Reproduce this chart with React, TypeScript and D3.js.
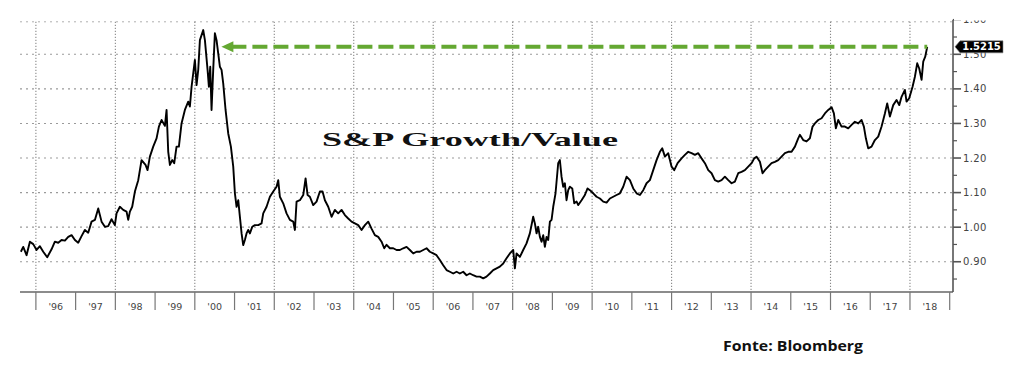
import React from "react";
import * as d3 from "d3";

// S&P Growth/Value ratio (decimal year, ratio)
const ratio1995to2000: [number, number][] = [
  [1995.622, 0.929], [1995.681, 0.943], [1995.765, 0.919], [1995.849, 0.958], [1995.933, 0.951],
  [1996.017, 0.934], [1996.101, 0.945], [1996.185, 0.929], [1996.285, 0.913], [1996.394, 0.936],
  [1996.478, 0.958], [1996.562, 0.955], [1996.646, 0.963], [1996.730, 0.961], [1996.814, 0.972],
  [1996.898, 0.977], [1996.982, 0.963], [1997.065, 0.955], [1997.149, 0.974], [1997.233, 0.992],
  [1997.317, 0.984], [1997.401, 1.016], [1997.485, 1.021], [1997.569, 1.054], [1997.653, 1.016],
  [1997.737, 1.001], [1997.820, 1.003], [1997.904, 1.023], [1997.988, 1.006], [1998.030, 1.040],
  [1998.114, 1.059], [1998.198, 1.050], [1998.282, 1.045], [1998.324, 1.021], [1998.366, 1.045],
  [1998.424, 1.059], [1998.492, 1.103], [1998.576, 1.136], [1998.659, 1.194], [1998.760, 1.180],
  [1998.810, 1.165], [1998.869, 1.204], [1998.953, 1.233], [1999.037, 1.257], [1999.096, 1.291],
  [1999.163, 1.310], [1999.247, 1.293], [1999.289, 1.339], [1999.331, 1.218], [1999.373, 1.180],
  [1999.431, 1.194], [1999.482, 1.185], [1999.540, 1.233], [1999.599, 1.233], [1999.666, 1.300],
  [1999.750, 1.339], [1999.834, 1.363], [1999.876, 1.349], [1999.918, 1.406], [2000.002, 1.484],
];

const ratio2000to2004: [number, number][] = [
  [2000.044, 1.411], [2000.086, 1.455], [2000.128, 1.541], [2000.212, 1.570], [2000.254, 1.541],
  [2000.321, 1.455], [2000.354, 1.406], [2000.388, 1.464], [2000.421, 1.339], [2000.463, 1.455],
  [2000.505, 1.561], [2000.547, 1.541], [2000.589, 1.503], [2000.631, 1.464], [2000.673, 1.455],
  [2000.715, 1.416], [2000.774, 1.339], [2000.841, 1.271], [2000.908, 1.233], [2000.967, 1.175],
  [2001.009, 1.098], [2001.051, 1.059], [2001.093, 1.078], [2001.135, 1.030], [2001.177, 0.982],
  [2001.218, 0.948], [2001.260, 0.963], [2001.302, 0.982], [2001.344, 0.992], [2001.386, 0.982],
  [2001.445, 1.001], [2001.512, 1.006], [2001.596, 1.006], [2001.680, 1.011], [2001.722, 1.040],
  [2001.806, 1.059], [2001.890, 1.088], [2001.974, 1.103], [2002.057, 1.117], [2002.099, 1.136],
  [2002.141, 1.088], [2002.225, 1.069], [2002.309, 1.040], [2002.393, 1.021], [2002.477, 1.016],
  [2002.519, 0.992], [2002.561, 1.074], [2002.645, 1.078], [2002.729, 1.093], [2002.788, 1.141],
  [2002.838, 1.093], [2002.896, 1.088], [2002.980, 1.064], [2003.064, 1.074], [2003.148, 1.103],
  [2003.215, 1.103], [2003.274, 1.078], [2003.358, 1.059], [2003.442, 1.030], [2003.525, 1.050],
  [2003.609, 1.040], [2003.693, 1.050], [2003.777, 1.035], [2003.861, 1.025], [2003.945, 1.016],
  [2004.029, 1.011], [2004.113, 1.006], [2004.197, 0.992], [2004.281, 1.006], [2004.365, 1.016],
  [2004.448, 0.996], [2004.532, 0.977], [2004.616, 0.972], [2004.700, 0.958], [2004.767, 0.939],
];

const ratio2004to2009: [number, number][] = [
  [2004.826, 0.949], [2004.910, 0.939], [2004.994, 0.939], [2005.077, 0.934], [2005.161, 0.934],
  [2005.245, 0.939], [2005.329, 0.943], [2005.413, 0.934], [2005.497, 0.924], [2005.581, 0.929],
  [2005.665, 0.929], [2005.749, 0.934], [2005.833, 0.939], [2005.916, 0.929], [2006.000, 0.924],
  [2006.084, 0.919], [2006.168, 0.905], [2006.252, 0.890], [2006.336, 0.876], [2006.420, 0.871],
  [2006.504, 0.866], [2006.588, 0.871], [2006.671, 0.866], [2006.755, 0.871], [2006.839, 0.861],
  [2006.923, 0.866], [2007.007, 0.861], [2007.091, 0.857], [2007.175, 0.857], [2007.259, 0.852],
  [2007.342, 0.857], [2007.426, 0.866], [2007.510, 0.876], [2007.594, 0.881], [2007.678, 0.886],
  [2007.762, 0.895], [2007.846, 0.910], [2007.930, 0.924], [2008.014, 0.934], [2008.056, 0.881],
  [2008.098, 0.924], [2008.182, 0.914], [2008.265, 0.934], [2008.349, 0.953], [2008.433, 0.982],
  [2008.517, 1.030], [2008.559, 1.011], [2008.601, 0.982], [2008.643, 1.001], [2008.685, 0.972],
  [2008.727, 0.958], [2008.769, 0.977], [2008.811, 0.943], [2008.853, 0.972], [2008.895, 0.963],
  [2008.937, 1.016], [2008.979, 1.021], [2009.021, 1.059], [2009.079, 1.098], [2009.146, 1.185],
  [2009.188, 1.194], [2009.230, 1.146], [2009.272, 1.117], [2009.314, 1.127], [2009.356, 1.078],
  [2009.398, 1.107], [2009.440, 1.117],
];

const ratio2009to2014: [number, number][] = [
  [2009.500, 1.112], [2009.550, 1.069], [2009.609, 1.074], [2009.651, 1.064], [2009.734, 1.078],
  [2009.818, 1.093], [2009.885, 1.112], [2009.944, 1.107], [2010.028, 1.098], [2010.112, 1.088],
  [2010.196, 1.083], [2010.280, 1.074], [2010.364, 1.071], [2010.448, 1.083], [2010.531, 1.088],
  [2010.615, 1.093], [2010.699, 1.098], [2010.783, 1.117], [2010.867, 1.146], [2010.951, 1.136],
  [2011.035, 1.112], [2011.119, 1.098], [2011.203, 1.093], [2011.287, 1.107], [2011.370, 1.127],
  [2011.454, 1.136], [2011.538, 1.165], [2011.622, 1.194], [2011.706, 1.218], [2011.765, 1.228],
  [2011.832, 1.204], [2011.916, 1.214], [2012.000, 1.175], [2012.067, 1.165], [2012.151, 1.185],
  [2012.251, 1.199], [2012.335, 1.209], [2012.419, 1.218], [2012.503, 1.214], [2012.587, 1.209],
  [2012.671, 1.214], [2012.755, 1.199], [2012.839, 1.185], [2012.923, 1.165], [2013.006, 1.156],
  [2013.090, 1.136], [2013.174, 1.132], [2013.258, 1.136], [2013.342, 1.146], [2013.426, 1.136],
  [2013.510, 1.127], [2013.593, 1.132], [2013.677, 1.156], [2013.761, 1.160], [2013.845, 1.165],
  [2013.929, 1.175], [2014.013, 1.185], [2014.080, 1.199],
];

const ratio2014to2018: [number, number][] = [
  [2014.139, 1.204], [2014.223, 1.189], [2014.290, 1.156], [2014.349, 1.165], [2014.432, 1.175],
  [2014.516, 1.185], [2014.600, 1.189], [2014.684, 1.194], [2014.768, 1.204], [2014.852, 1.214],
  [2014.936, 1.218], [2015.020, 1.218], [2015.104, 1.233], [2015.187, 1.257], [2015.229, 1.267],
  [2015.313, 1.252], [2015.397, 1.248], [2015.481, 1.257], [2015.548, 1.291], [2015.607, 1.300],
  [2015.691, 1.310], [2015.775, 1.315], [2015.859, 1.329], [2015.943, 1.339], [2016.027, 1.347],
  [2016.085, 1.329], [2016.135, 1.286], [2016.194, 1.310], [2016.278, 1.291], [2016.362, 1.291],
  [2016.446, 1.286], [2016.530, 1.296], [2016.614, 1.305], [2016.698, 1.300], [2016.782, 1.310],
  [2016.840, 1.291], [2016.890, 1.257], [2016.949, 1.228], [2017.033, 1.233], [2017.117, 1.252],
  [2017.201, 1.262], [2017.285, 1.291], [2017.369, 1.329], [2017.427, 1.358], [2017.495, 1.320],
  [2017.578, 1.353], [2017.662, 1.368], [2017.730, 1.353], [2017.788, 1.377], [2017.872, 1.397],
  [2017.914, 1.363], [2017.981, 1.373], [2018.065, 1.406], [2018.124, 1.435], [2018.182, 1.474],
  [2018.233, 1.459], [2018.292, 1.426], [2018.334, 1.479], [2018.384, 1.493], [2018.434, 1.5215],
];

const yearStarts = d3.range(1996, 2020);
const yearLabels = ["'96", "'97", "'98", "'99", "'00", "'01", "'02", "'03", "'04", "'05", "'06", "'07",
  "'08", "'09", "'10", "'11", "'12", "'13", "'14", "'15", "'16", "'17", "'18"];
const gridYears = [1996, 1998, 2000, 2002, 2004, 2006, 2008, 2010, 2012, 2014, 2016, 2018];
const majorTicks = [0.9, 1.0, 1.1, 1.2, 1.3, 1.4, 1.5, 1.6];
const minorTicks = [0.85, 0.95, 1.05, 1.15, 1.25, 1.35, 1.45, 1.55];
const gridValues = [0.9, 1.0, 1.1, 1.2, 1.3, 1.4, 1.5];
const titleText = "S&P Growth/Value";
const sourceText = "Fonte: Bloomberg";

export default function App() {
  const data = [...ratio1995to2000, ...ratio2000to2004, ...ratio2004to2009, ...ratio2009to2014, ...ratio2014to2018];
  const left = 20, right = 953, top = 21.8, bottom = 292;
  const x = d3.scaleLinear().domain([1995.6, 2019.083]).range([left, right]);
  const y = d3.scaleLinear().domain([0.8125, 1.594]).range([bottom, top]);
  const line = d3.line<[number, number]>().x(d => x(d[0])).y(d => y(d[1]));

  const last = data[data.length - 1];
  const lastV = last[1];
  // find where the 2000 peak last exceeded the current level
  let crossYear = 2000.5;
  for (let i = 0; i < data.length - 1; i++) {
    const a = data[i], b = data[i + 1];
    if (a[0] < 2005 && a[1] >= lastV && b[1] < lastV) {
      crossYear = a[0] + (a[1] - lastV) / (a[1] - b[1]) * (b[0] - a[0]);
    }
  }
  const ya = y(lastV);
  const tipX = x(crossYear) + 4;
  const endX = x(last[0]);

  const axisFont = "'DejaVu Sans', Verdana, sans-serif";

  return (
    <svg width={1024} height={380} style={{ position: "absolute", left: 0, top: 0, background: "#fff" }}
      xmlns="http://www.w3.org/2000/svg">
      <rect x={0} y={0} width={1024} height={380} fill="#fff" />
      {/* horizontal dotted grid */}
      {gridValues.map(v => (
        <line key={"hg" + v} x1={left} x2={right} y1={y(v)} y2={y(v)} stroke="#9a9a9a" strokeWidth={1.1} strokeDasharray="2,4" />
      ))}
      <line x1={left} x2={right} y1={top} y2={top} stroke="#b0b0b0" strokeWidth={1} strokeDasharray="2,4" />
      {/* vertical dotted grid */}
      {gridYears.map(yr => (
        <line key={"vg" + yr} x1={x(yr)} x2={x(yr)} y1={top} y2={bottom} stroke="#8a8a8a" strokeWidth={1.1} strokeDasharray="1.3,1.7" />
      ))}

      {/* title */}
      <text x={322} y={145.5} fontFamily="'Liberation Serif', 'Times New Roman', serif" fontWeight="bold" fontSize={19.5}
        textLength={296} lengthAdjust="spacingAndGlyphs" fill="#111">{titleText}</text>

      {/* series */}
      <path d={line(data) || ""} fill="none" stroke="#000" strokeWidth={1.9} strokeLinejoin="round" />

      {/* green dashed arrow */}
      <line x1={tipX + 10} x2={endX} y1={ya} y2={ya} stroke="#64a832" strokeWidth={4} strokeDasharray="15,6" />
      <polygon points={`${tipX},${ya} ${tipX + 12},${ya - 5.5} ${tipX + 12},${ya + 5.5}`} fill="#64a832" />

      {/* bottom axis */}
      <line x1={left} x2={right} y1={bottom} y2={bottom} stroke="#666" strokeWidth={1.5} />
      {yearStarts.map(yr => (
        <line key={"ys" + yr} x1={x(yr)} x2={x(yr)} y1={bottom} y2={bottom + 18} stroke="#777" strokeWidth={1.2} />
      ))}
      {yearLabels.map((lab, i) => (
        <text key={"yl" + i} x={x(yearStarts[i] + 0.5)} y={309.5} textAnchor="middle" fontFamily={axisFont}
          fontSize={9.5} fill="#444">{lab}</text>
      ))}

      {/* right axis */}
      <line x1={right} x2={right} y1={top - 2} y2={bottom} stroke="#555" strokeWidth={1.6} />
      {majorTicks.map(v => (
        <g key={"mt" + v}>
          <line x1={right} x2={right + 8} y1={y(v)} y2={y(v)} stroke="#555" strokeWidth={1.6} />
          <text x={right + 10} y={y(v) + 3.5} fontFamily={axisFont} fontSize={10} letterSpacing={0.4} fill="#444">{v.toFixed(2)}</text>
        </g>
      ))}
      {minorTicks.map(v => (
        <line key={"mn" + v} x1={right} x2={right + 4} y1={y(v)} y2={y(v)} stroke="#555" strokeWidth={1.2} />
      ))}
      {/* crop above the plot top, as in the reference */}
      <rect x={right + 1} y={0} width={1024 - right} height={20.5} fill="#fff" />

      {/* last value label */}
      <polygon points={`${right + 2},${ya} ${right + 7},${ya - 6} ${right + 50},${ya - 6} ${right + 50},${ya + 6} ${right + 7},${ya + 6}`}
        fill="#000" stroke="#888" strokeWidth={0.6} />
      <text x={right + 28.5} y={ya + 3.6} textAnchor="middle" fontFamily={axisFont} fontWeight="bold" fontSize={10}
        fill="#fff">{lastV.toFixed(4)}</text>

      {/* source */}
      <text x={723} y={351} fontFamily="'Open Sans', 'Liberation Sans', sans-serif" fontWeight="bold" fontSize={15}
        textLength={140} lengthAdjust="spacingAndGlyphs" fill="#111">{sourceText}</text>
    </svg>
  );
}
